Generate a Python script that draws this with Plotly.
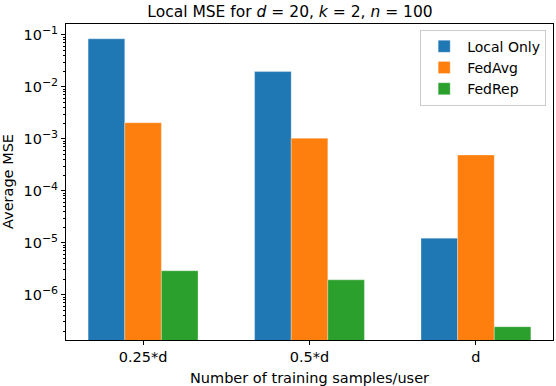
import plotly.graph_objects as go

categories = ["0.25*d", "0.5*d", "d"]
local_only = [0.084, 0.0197, 1.23e-5]
fedavg = [2.05e-3, 1.03e-3, 4.9e-4]
fedrep = [2.9e-6, 1.94e-6, 2.43e-7]
series_names = ["Local Only", "FedAvg", "FedRep"]
colors = ["#1f77b4", "#ff7f0e", "#2ca02c"]
ytick_vals = [1e-1, 1e-2, 1e-3, 1e-4, 1e-5, 1e-6]
ytick_exps = ["−1", "−2", "−3", "−4", "−5", "−6"]
ytick_text = ["10<sup><span style='font-size:11px'>%s</span></sup>" % e for e in ytick_exps]

font = "DejaVu Sans"
fig = go.Figure()
for name, vals, c in zip(series_names, [local_only, fedavg, fedrep], colors):
    fig.add_trace(go.Bar(x=categories, y=vals, name=name, marker_color=c,
                         marker_line=dict(width=0.6, color="rgba(255,255,255,0.5)")))

fig.update_layout(
    width=556, height=386,
    margin=dict(l=66, r=3, t=24, b=46, autoexpand=False),
    paper_bgcolor="white", plot_bgcolor="white",
    barmode="group", bargap=0.34, bargroupgap=0,
    font=dict(family=font, size=13, color="black"),
    title=dict(text="Local MSE for <i>d</i> = 20, <i>k</i> = 2, <i>n</i> = 100",
               x=290/556, xanchor="center", y=1-12/386, yanchor="middle",
               font=dict(size=15.5, family=font), automargin=False),
    legend=dict(x=0.986, xanchor="right", y=0.982, yanchor="top",
                bordercolor="#cccccc", borderwidth=1, bgcolor="rgba(255,255,255,0.8)",
                font=dict(size=14, family=font), tracegroupgap=0, itemwidth=36),
    showlegend=True,
    annotations=[
        dict(text="Number of training samples/user", xref="paper", yref="paper",
             x=(309-66)/487, y=-(378-340)/316, xanchor="center", yanchor="middle",
             showarrow=False, font=dict(size=14.5, family=font)),
        dict(text="Average MSE", xref="paper", yref="paper",
             x=-(66-8)/487, y=0.5, xanchor="center", yanchor="middle", textangle=-90,
             showarrow=False, font=dict(size=14.5, family=font)),
    ],
)
fig.update_xaxes(
    type="category", range=[-0.463, 2.463], automargin=False,
    showline=True, linecolor="black", linewidth=1, mirror=True,
    ticks="outside", ticklen=4, tickcolor="black", showgrid=False,
    tickfont=dict(size=14.5),
)
fig.update_yaxes(
    type="log", range=[-6.87, -0.79], automargin=False,
    tickvals=ytick_vals, ticktext=ytick_text,
    showline=True, linecolor="black", linewidth=1, mirror=True,
    ticks="outside", ticklen=4, tickcolor="black", showgrid=False,
    minor=dict(ticks="outside", ticklen=2, tickcolor="black", dtick="D1", showgrid=False),
    tickfont=dict(size=14.5),
)
fig.write_html("out.html", config={"displayModeBar": False},
               post_script="document.body.style.margin='0';document.body.style.overflow='hidden';")
